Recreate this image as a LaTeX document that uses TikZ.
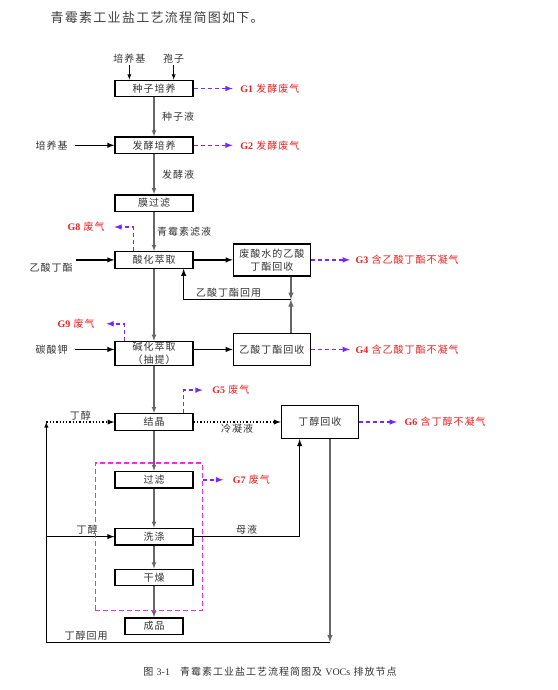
\documentclass[tikz,border=0pt]{standalone}
\usepackage{fontspec}
\setmainfont{Noto Sans CJK SC}[LetterSpace=10]
\newfontfamily\lat{Liberation Serif}
\usepackage{tikz}
\usetikzlibrary{positioning}
\usetikzlibrary{fit}
\definecolor{ventc}{RGB}{120,40,255}
\definecolor{gasred}{RGB}{240,30,30}
\definecolor{wrapc}{RGB}{240,40,240}
\newcommand{\gtag}[1]{{\lat\bfseries #1}\ }
\newcommand{\lbfont}{\fontsize{10pt}{13pt}\selectfont}

\begin{document}
\begin{tikzpicture}[
    x=1pt, y=1pt,
    procbox/.style={draw,line width=1.3pt,minimum width=78pt,minimum height=16.5pt,inner sep=0pt,align=center,font=\lbfont,text=black!80},
    sidebox/.style={procbox,minimum width=77pt,minimum height=32pt},
    lbl/.style={inner sep=1.5pt,font=\lbfont,text=black!80},
    gas/.style={lbl,text=gasred},
    flow/.style={draw=black!60,line width=1.1pt,-latex},
    feed/.style={line width=1.4pt,-latex},
    infeed/.style={feed,shorten <=6pt},
    back/.style={draw=black!60,line width=1.4pt,-latex},
    dotline/.style={line width=1.3pt,dotted,-latex},
    vent/.style={draw=ventc,dash pattern=on 4pt off 3pt,line width=1.5pt,-latex},
    wrap/.style={draw=wrapc,dash pattern=on 5pt off 3pt,line width=1.2pt}
    ]
    \useasboundingbox (0,0) rectangle (557,-690);

    \node[anchor=west,font=\fontsize{13pt}{15pt}\selectfont,text=black!75] (title) at (47,-18) {青霉素工业盐工艺流程简图如下。};

    \node[procbox] (seed) at (154,-88.5) {种子培养};
    \node[procbox, below=39pt of seed] (ferm) {发酵培养};
    \node[procbox, below=40pt of ferm] (membr) {膜过滤};
    \node[procbox, below=39pt of membr] (acid) {酸化萃取};
    \node[procbox, minimum height=24pt, below=72pt of acid] (alk) {碱化萃取\\（抽提）};
    \node[procbox, below=47pt of alk] (cryst) {结晶};
    \node[procbox, below=40pt of cryst] (filt) {过滤};
    \node[procbox, below=39pt of filt] (wash) {洗涤};
    \node[procbox, below=23pt of wash] (dry) {干燥};
    \node[procbox, minimum width=58pt, below=31pt of dry] (prod) {成品};

    \node[sidebox, right=39pt of acid] (wasterec) {废酸水的乙酸\\丁酯回收};
    \node[sidebox, right=39pt of alk, yshift=4pt] (esterrec) {乙酸丁酯回收};
    \node[sidebox, minimum height=33pt, right=87pt of cryst] (butrec) {丁醇回收};

    % feeds
    \node[lbl, above=15pt of seed.north west, xshift=15pt] (medium0) {培养基};
    \node[lbl, above=15pt of seed.north east, xshift=-20pt] (spore) {孢子};
    \node[lbl, left=45pt of ferm] (medium) {培养基};
    \coordinate[left=38pt of acid] (esterin);
    \node[lbl, anchor=north east] (ester) at ([xshift=-2pt,yshift=-2pt]esterin) {乙酸丁酯};
    \node[lbl, left=45pt of alk, yshift=4pt] (potash) {碳酸钾};

    \draw[line width=0.8pt,-latex] (medium0) -- (medium0 |- seed.north);
    \draw[line width=0.8pt,-latex] (spore) -- (spore |- seed.north);
    \draw[infeed] (medium) -- (ferm);
    \draw[feed] (esterin) -- (acid);
    \draw[infeed] (potash) -- (potash -| alk.west);

    \path (seed) edge[flow] node[lbl, right=6pt] {种子液} (ferm)
    (ferm) edge[flow] node[lbl, right=6pt] {发酵液} (membr)
    (membr) edge[flow] node[lbl, right=1pt] {青霉素滤液} (acid)
    (acid) edge[flow] (alk)
    (alk) edge[flow] (cryst)
    (cryst) edge[flow] (filt)
    (filt) edge[flow] (wash)
    (wash) edge[flow] (dry)
    (dry) edge[flow] (prod)
    ;

    \draw[feed] (acid) -- (wasterec);
    \draw[feed] (alk.east |- esterrec.west) -- (esterrec);

    % ester return
    \coordinate[below=23pt of wasterec.south east, xshift=-20pt] (ret);
    \draw[back] ([xshift=-20pt]wasterec.south east) -- (ret);
    \draw[back] ([xshift=-20pt]esterrec.north east) -- (ret);
    \draw[feed] (ret) -| node[lbl, above, pos=0.29] {乙酸丁酯回用} ([xshift=-10pt]acid.south east);

    % butanol loop
    \coordinate[left=68pt of cryst] (loopT);
    \coordinate (bx) at ([xshift=-29pt]butrec.south east);
    \coordinate[below=7pt of prod] (by);
    \coordinate (loopR) at (bx |- by);
    \coordinate (loopL) at (loopT |- by);
    \draw[back] (bx) -- (loopR);
    \draw[line width=0.9pt,-latex] (loopR) -- node[lbl, above, pos=0.86] {丁醇回用} (loopL) -- (loopT);
    \draw[dotline] (loopT) -- node[lbl, above] {丁醇} (cryst);
    \draw[feed] (loopL |- wash) -- node[lbl, above, pos=0.6] {丁醇} (wash);
    \draw[dotline] (cryst) -- node[lbl, below] {冷凝液} (butrec);
    \draw[feed] (wash) -| node[lbl, above, pos=0.25] {母液} ([xshift=19pt]butrec.south west);

    \node[wrap, fit=(filt)(dry), inner xsep=14pt, inner ysep=16pt, xshift=-5pt, yshift=-8pt] (wrapbox) {};

    % emissions
    \coordinate[right=39pt of seed] (g1end);
    \coordinate[right=39pt of ferm] (g2end);
    \coordinate[right=39pt of wasterec] (g3end);
    \coordinate[right=39pt of esterrec] (g4end);
    \coordinate[above=23pt of cryst.north east, xshift=9pt] (g5end);
    \coordinate[right=38pt of butrec] (g6end);
    \coordinate (g7start) at (wrapbox.east |- filt);
    \coordinate[right=20pt of g7start] (g7end);
    \coordinate[above=24pt of acid.north west] (g8end);
    \coordinate[above=17pt of alk.north west, xshift=-8pt] (g9end);

    \draw[vent] (seed) -- (g1end);
    \draw[vent] (ferm) -- (g2end);
    \draw[vent] (wasterec) -- (g3end);
    \draw[vent] (esterrec) -- (g4end);
    \draw[vent] ([xshift=-10pt]cryst.north east) |- (g5end);
    \draw[vent] (butrec) -- (g6end);
    \draw[vent] (g7start) -- (g7end);
    \draw[vent] ([xshift=19pt]acid.north west) |- (g8end);
    \draw[vent] ([xshift=10pt]alk.north west) |- (g9end);

    \node[gas, right=6pt of g1end] (g1) {\gtag{G1}发酵废气};
    \node[gas, right=6pt of g2end] (g2) {\gtag{G2}发酵废气};
    \node[gas, right=4pt of g3end] (g3) {\gtag{G3}含乙酸丁酯不凝气};
    \node[gas, right=4pt of g4end] (g4) {\gtag{G4}含乙酸丁酯不凝气};
    \node[gas, right=8pt of g5end] (g5) {\gtag{G5}废气};
    \node[gas, right=6pt of g6end] (g6) {\gtag{G6}含丁醇不凝气};
    \node[gas, right=8pt of g7end] (g7) {\gtag{G7}废气};
    \node[gas, left=8pt of g8end] (g8) {\gtag{G8}废气};
    \node[gas, left=10pt of g9end] (g9) {\gtag{G9}废气};

    \node[lbl] (caption) at (270,-672) {图 {\lat 3-1}\quad 青霉素工业盐工艺流程简图及 {\lat VOCs} 排放节点};

\end{tikzpicture}
\end{document}
